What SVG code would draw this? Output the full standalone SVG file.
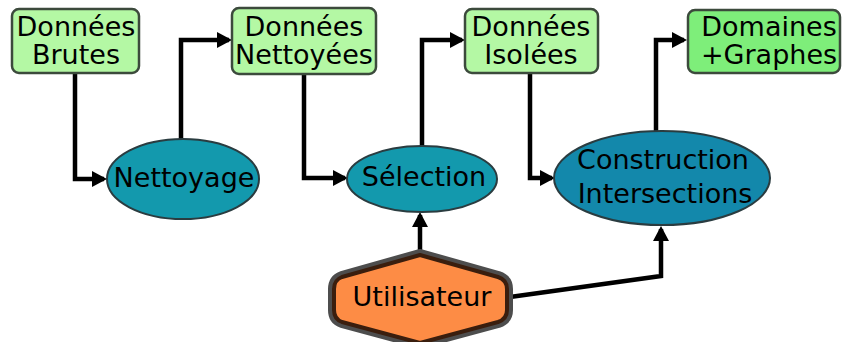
<svg xmlns="http://www.w3.org/2000/svg" width="842" height="342" viewBox="0 0 842 342">
<style>
text{font-family:"DejaVu Sans","Noto Sans",sans-serif;font-size:27px;fill:#000;text-anchor:middle}
.box{fill:#b4f8a4;stroke:#3c4a3c;stroke-width:2.5}
.box2{fill:#7eee7a;stroke:#3c4a3c;stroke-width:2.5}
.ell{fill:#1399ad;stroke:#2a3c40;stroke-width:2}
.ell2{fill:#1388ab;stroke:#2a3c40;stroke-width:2}
.conn{fill:none;stroke:#000;stroke-width:4.5;marker-end:url(#arr)}
</style>
<defs>
<marker id="arr" viewBox="0 0 15 16" refX="12" refY="8" markerWidth="15" markerHeight="16" markerUnits="userSpaceOnUse" orient="auto">
<path d="M0,0 L15,8 L0,16 z" fill="#000"/>
</marker>
</defs>
<g id="connectors">
<path class="conn" d="M75,73 V179 H104"/>
<path class="conn" d="M181,140 V40 H229"/>
<path class="conn" d="M304,74 V178 H345"/>
<path class="conn" d="M422,146 V40 H462"/>
<path class="conn" d="M530,73 V178 H552"/>
<path class="conn" d="M656,131 V40 H684"/>
<path class="conn" d="M420,252 V215"/>
<path class="conn" d="M510,297 L661,276 V229"/>
</g>
<g id="donnees-brutes">
<rect class="box" x="12" y="9" width="127" height="64" rx="7"/>
<text x="76" y="36">Données</text>
<text x="76" y="64">Brutes</text>
</g>
<g id="donnees-nettoyees">
<rect class="box" x="232" y="8" width="144" height="66" rx="7"/>
<text x="304" y="36">Données</text>
<text x="304" y="64">Nettoyées</text>
</g>
<g id="donnees-isolees">
<rect class="box" x="465" y="9" width="133" height="64" rx="7"/>
<text x="531" y="36">Données</text>
<text x="531" y="64">Isolées</text>
</g>
<g id="domaines-graphes">
<rect class="box2" x="688" y="10" width="152" height="63" rx="7"/>
<text x="769" y="36">Domaines</text>
<text x="769" y="64">+Graphes</text>
</g>
<g id="nettoyage">
<ellipse class="ell" cx="183" cy="179" rx="76" ry="40"/>
<text x="184" y="187">Nettoyage</text>
</g>
<g id="selection">
<ellipse class="ell" cx="422" cy="179" rx="75" ry="33"/>
<text x="424" y="186">Sélection</text>
</g>
<g id="construction">
<ellipse class="ell2" cx="662" cy="178" rx="108" ry="47"/>
<text x="663" y="169">Construction</text>
<text x="665" y="203">Intersections</text>
</g>
<g id="utilisateur">
<path d="M420,255 L498,277 Q507,280 507,289 L507,310 Q507,319 498,322 L420,343 L342,322 Q334,319 334,310 L334,289 Q334,280 342,277 Z" fill="none" stroke="#4d4d4d" stroke-width="12" stroke-linejoin="round"/>
<path d="M420,255 L498,277 Q507,280 507,289 L507,310 Q507,319 498,322 L420,343 L342,322 Q334,319 334,310 L334,289 Q334,280 342,277 Z" fill="#fd8c45" stroke="#3a1e0e" stroke-width="4" stroke-linejoin="round"/>
<text x="422" y="306">Utilisateur</text>
</g>
</svg>
